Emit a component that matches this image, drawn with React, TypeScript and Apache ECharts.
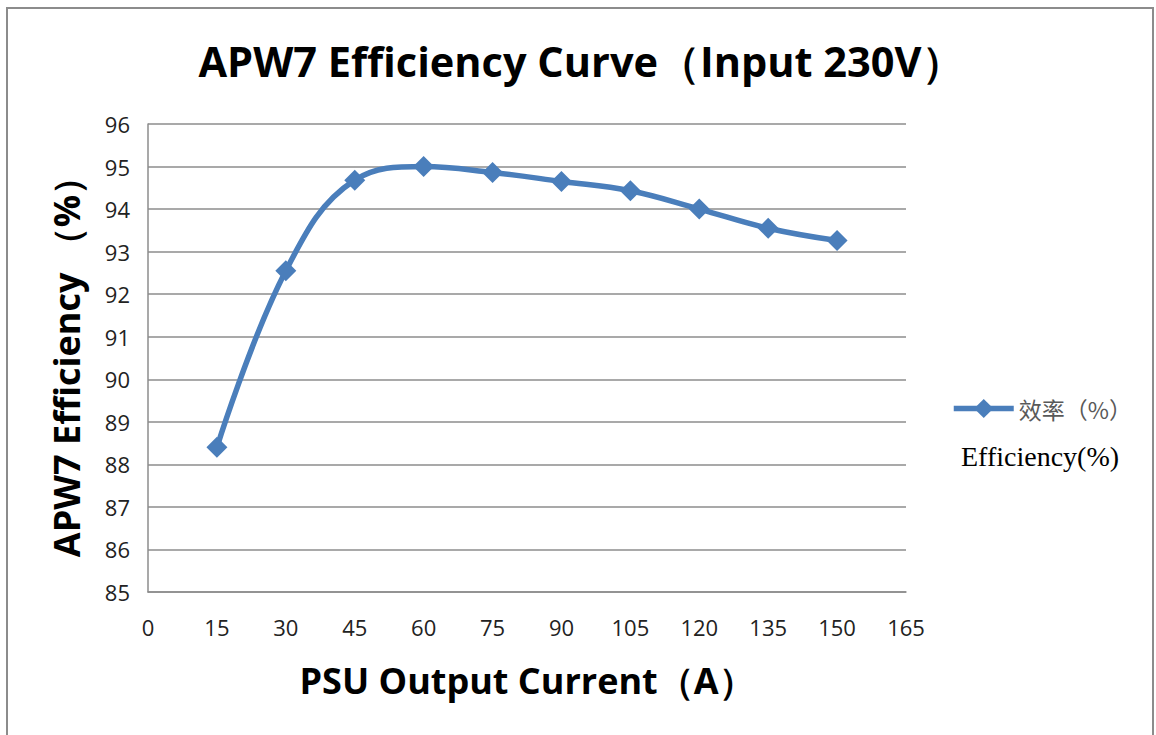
import React, { useEffect, useRef } from "react";
import * as echarts from "echarts";

const currents = [15, 30, 45, 60, 75, 90, 105, 120, 135, 150];
const efficiency = [88.4, 92.55, 94.68, 95.0, 94.86, 94.65, 94.43, 94.0, 93.55, 93.26];
const titleText = "APW7 Efficiency Curve（Input 230V）";
const xName = "PSU Output Current（A）";
const yName = "APW7 Efficiency （%）";
const seriesName = "效率（%）";
const noteText = "Efficiency(%)";

export default function App() {
  const ref = useRef<HTMLDivElement>(null);
  useEffect(() => {
    document.body.style.margin = "0";
    const chart = echarts.init(ref.current!, null, { renderer: "svg" });
    const font = "'Open Sans', 'Noto Sans', sans-serif";
    chart.setOption({
      animation: false,
      backgroundColor: "#ffffff",
      title: {
        text: titleText,
        left: 576,
        top: 35,
        textAlign: "center",
        textStyle: { fontFamily: font, fontWeight: "bold", fontSize: 41.5, color: "#000" },
      },
      legend: {
        left: 946,
        top: 392,
        itemWidth: 60,
        itemHeight: 24,
        itemGap: 0,
        data: [seriesName],
        lineStyle: { width: 5.5 },
        textStyle: { fontFamily: "'Noto Sans CJK SC', sans-serif", fontSize: 23, color: "#595959" },
      },
      grid: { left: 148, top: 124, width: 758, height: 468, containLabel: false },
      xAxis: {
        type: "value",
        min: 0,
        max: 165,
        interval: 15,
        name: xName,
        nameLocation: "middle",
        nameGap: 70,
        nameTextStyle: { fontFamily: font, fontWeight: "bold", fontSize: 36, color: "#000" },
        axisLine: { lineStyle: { color: "#8c8c8c", width: 1.5 } },
        axisTick: { show: false },
        splitLine: { show: false },
        axisLabel: { fontFamily: font, fontSize: 22, color: "#222", margin: 24 },
      },
      yAxis: {
        type: "value",
        min: 85,
        max: 96,
        interval: 1,
        name: yName,
        nameLocation: "middle",
        nameGap: 64,
        nameTextStyle: { fontFamily: font, fontWeight: "bold", fontSize: 36, color: "#000" },
        axisLine: { show: true, lineStyle: { color: "#8c8c8c", width: 1.5 } },
        axisTick: { show: false },
        splitLine: { lineStyle: { color: "#8c8c8c", width: 1.5 } },
        axisLabel: { fontFamily: font, fontSize: 22, color: "#222", margin: 18 },
      },
      graphic: [
        {
          type: "rect",
          shape: { x: 7, y: 8, width: 1146, height: 740 },
          style: { fill: "none", stroke: "#8c8c8c", lineWidth: 2 },
          silent: true,
        },
        {
          type: "text",
          left: 961,
          top: 442,
          style: { text: noteText, font: "28px 'Liberation Serif', serif", fill: "#000" },
        },
      ],
      series: [
        {
          name: seriesName,
          type: "line",
          data: currents.map((c, i) => [c, efficiency[i]]),
          smooth: 0.4,
          symbol: "diamond",
          symbolSize: 21,
          lineStyle: { color: "#4A7EBB", width: 5.5 },
          itemStyle: { color: "#4A7EBB" },
        },
      ],
    });
    return () => chart.dispose();
  }, []);
  return <div ref={ref} style={{ width: 1156, height: 735 }} />;
}
